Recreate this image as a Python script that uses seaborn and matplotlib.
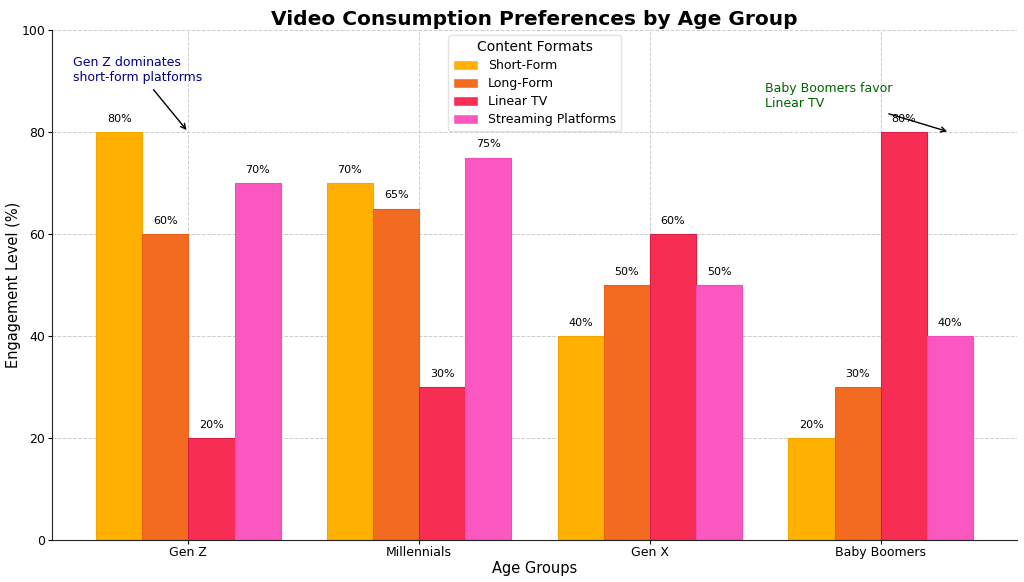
import matplotlib
matplotlib.use("Agg")
import matplotlib.pyplot as plt
import seaborn as sns
import pandas as pd

age_groups = ["Gen Z", "Millennials", "Gen X", "Baby Boomers"]
formats = ["Short-Form", "Long-Form", "Linear TV", "Streaming Platforms"]
short_form = [80, 70, 40, 20]
long_form = [60, 65, 50, 30]
linear_tv = [20, 30, 60, 80]
streaming = [70, 75, 50, 40]
colors = ["#FFB000", "#F26B21", "#F72D54", "#FA57C1"]
edge_colors = ["#F5A800", "#E8621A", "#D81E45", "#F04DB8"]

series = [short_form, long_form, linear_tv, streaming]
rows = []
for fmt, vals in zip(formats, series):
    for g, v in zip(age_groups, vals):
        rows.append({"Age Group": g, "Format": fmt, "Value": v})
df = pd.DataFrame(rows)

sns.set_style("white")
plt.rcParams['font.family'] = ['DejaVu Sans']
plt.rcParams['text.color'] = 'black'
plt.rcParams['axes.labelcolor'] = 'black'
plt.rcParams['xtick.color'] = 'black'
plt.rcParams['ytick.color'] = 'black'

fig, ax = plt.subplots(figsize=(10.24, 5.82), dpi=100)
sns.barplot(data=df, x="Age Group", y="Value", hue="Format", order=age_groups,
            hue_order=formats, palette=colors, width=0.8, ax=ax, saturation=1)

for cont, ec in zip(ax.containers, edge_colors):
    for bar in cont:
        bar.set_edgecolor(ec)
        bar.set_linewidth(0.8)
    ax.bar_label(cont, labels=[f"{int(b.get_height())}%" for b in cont],
                 padding=6, fontsize=8)

ax.set_xlim(-0.59, 3.59)
ax.set_ylim(0, 100)
ax.set_yticks([0, 20, 40, 60, 80, 100])
ax.grid(True, linestyle="--", color="#cccccc", linewidth=0.7)
ax.set_axisbelow(True)
for s in ["top", "right"]:
    ax.spines[s].set_visible(False)
ax.spines["left"].set_color("#222222")
ax.spines["bottom"].set_color("#222222")
ax.tick_params(axis="both", length=3, labelsize=9, left=True, bottom=True, pad=2)
ax.tick_params(axis="x", pad=1.5)

ax.set_title("Video Consumption Preferences by Age Group", fontsize=14.5,
             fontweight="bold", pad=4)
ax.set_xlabel("Age Groups", fontsize=10.5, labelpad=1)
ax.set_ylabel("Engagement Level (%)", fontsize=10.5, labelpad=0)

leg = ax.legend(title="Content Formats", loc="upper center", fontsize=9,
                title_fontsize=10, frameon=True, labelspacing=0.4,
                borderaxespad=0.4, handleheight=0.8)
leg.get_frame().set_edgecolor("#dddddd")

ax.annotate("Gen Z dominates\nshort-form platforms", xy=(0, 80), xytext=(-0.5, 90),
            color="darkblue", fontsize=9,
            arrowprops=dict(arrowstyle="->", color="black", lw=1))
ax.annotate("Baby Boomers favor\nLinear TV", xy=(3.3, 80), xytext=(2.5, 85),
            color="darkgreen", fontsize=9,
            arrowprops=dict(arrowstyle="->", color="black", lw=1))

fig.subplots_adjust(left=0.051, right=0.993, top=0.948, bottom=0.072)
fig.savefig("out.png", dpi=100)
